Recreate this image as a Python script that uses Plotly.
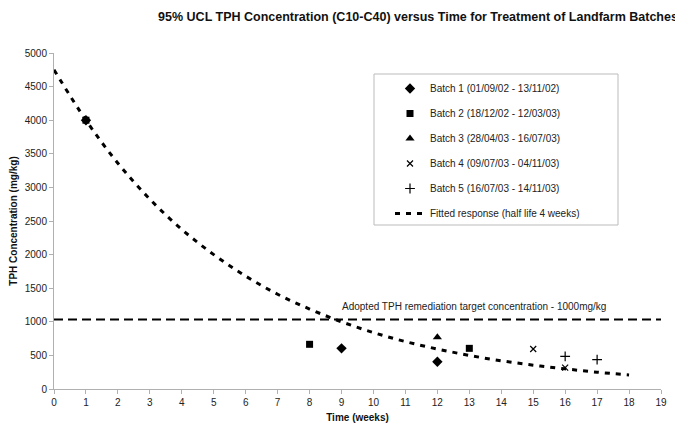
import plotly.graph_objects as go

# Data
b1_t = [1, 9, 12]
b1_v = [4000, 605, 405]
b2_t = [1, 8, 13]
b2_v = [4000, 665, 605]
b3_t = [12]
b3_v = [769]
b4_t = [15, 16]
b4_v = [595, 317]
b5_t = [16, 17]
b5_v = [486, 437]
fit_t = list(range(0, 19))
fit_v = [4750, 4000, 3360, 2825, 2375, 2000, 1680, 1410, 1190, 1000, 840, 705,
         595, 500, 420, 355, 300, 250, 210]
target_value = 1035
x_ticks = list(range(0, 20))
y_ticks = list(range(0, 5001, 500))

FONT = "Liberation Sans, Arial, sans-serif"
# page body has an 8px margin; figure is sized/offset to compensate
OFF = 8
W, H = 683 - OFF, 425 - OFF
PL, PR, PT, PB = 54 - OFF, 661 - OFF, 53 - OFF, 389 - OFF  # plot area in figure px

fig = go.Figure()
series = [
    ("Batch 1 (01/09/02 - 13/11/02)", b1_t, b1_v, "diamond", 8, 0),
    ("Batch 2 (18/12/02 - 12/03/03)", b2_t, b2_v, "square", 7, 0),
    ("Batch 3 (28/04/03 - 16/07/03)", b3_t, b3_v, "triangle-up", 8, 0),
    ("Batch 4 (09/07/03 - 04/11/03)", b4_t, b4_v, "x-thin-open", 6, 1.2),
    ("Batch 5 (16/07/03 - 14/11/03)", b5_t, b5_v, "cross-thin-open", 7, 1.2),
]
for i, (name, t, v, sym, sz, lw) in enumerate(series):
    fig.add_trace(go.Scatter(
        x=t, y=v, mode="markers", name=name, legendgroup=f"g{i}",
        marker=dict(symbol=sym, size=sz, color="black",
                    line=dict(width=lw, color="black")),
    ))

fig.add_trace(go.Scatter(
    x=fit_t, y=fit_v, mode="lines", name="Fitted response (half life 4 weeks)",
    legendgroup="g5", line=dict(color="black", width=3, dash="5px,6px", shape="spline"),
))

fig.add_trace(go.Scatter(
    x=[0, 19], y=[target_value, target_value], mode="lines", showlegend=False,
    line=dict(color="black", width=2, dash="9px,5px"),
))

fig.add_annotation(
    x=13.15, y=1235, text="Adopted TPH remediation target concentration - 1000mg/kg",
    showarrow=False, font=dict(family=FONT, size=10, color="#222"),
)

pw, ph = 607, 336
# legend box
fig.add_shape(type="rect", xref="paper", yref="paper",
              x0=(374 - 54) / pw, x1=(618 - 54) / pw,
              y0=(389 - 225) / ph, y1=(389 - 74) / ph,
              line=dict(color="#bbbbbb", width=1), fillcolor="rgba(0,0,0,0)")

fig.update_layout(
    width=W, height=H,
    margin=dict(l=PL, r=W - PR, t=PT, b=H - PB),
    paper_bgcolor="white", plot_bgcolor="white",
    font=dict(family=FONT, size=10, color="#222"),
    title=dict(text="95% UCL TPH Concentration (C10-C40) versus Time for Treatment of Landfarm Batches",
               x=(418 - OFF) / W, xanchor="center", y=1 - (17 - OFF) / H, yanchor="middle",
               font=dict(family=FONT, size=12.5, color="#111", weight="bold")),
    legend=dict(x=(390 - 54) / pw, y=(389 - 74) / ph, xanchor="left", yanchor="top",
                bgcolor="rgba(0,0,0,0)", borderwidth=0, tracegroupgap=6,
                font=dict(family=FONT, size=10, color="#222")),
    xaxis=dict(range=[0, 19], tickvals=x_ticks, showgrid=False, zeroline=False,
               showline=True, linecolor="#b0b0b0", linewidth=1, automargin=False,
               ticks="outside", ticklen=4, tickcolor="#b0b0b0",
               title=dict(text="Time (weeks)", standoff=6,
                          font=dict(family=FONT, size=10, weight="bold", color="#111"))),
    yaxis=dict(range=[0, 5000], tickvals=y_ticks, showgrid=False, zeroline=False,
               showline=True, linecolor="#b0b0b0", linewidth=1, automargin=False,
               ticks="outside", ticklen=4, tickcolor="#b0b0b0",
               title=dict(text="TPH Concentration (mg/kg)", standoff=6,
                          font=dict(family=FONT, size=10, weight="bold", color="#111"))),
)

fig.write_html("out.html")
